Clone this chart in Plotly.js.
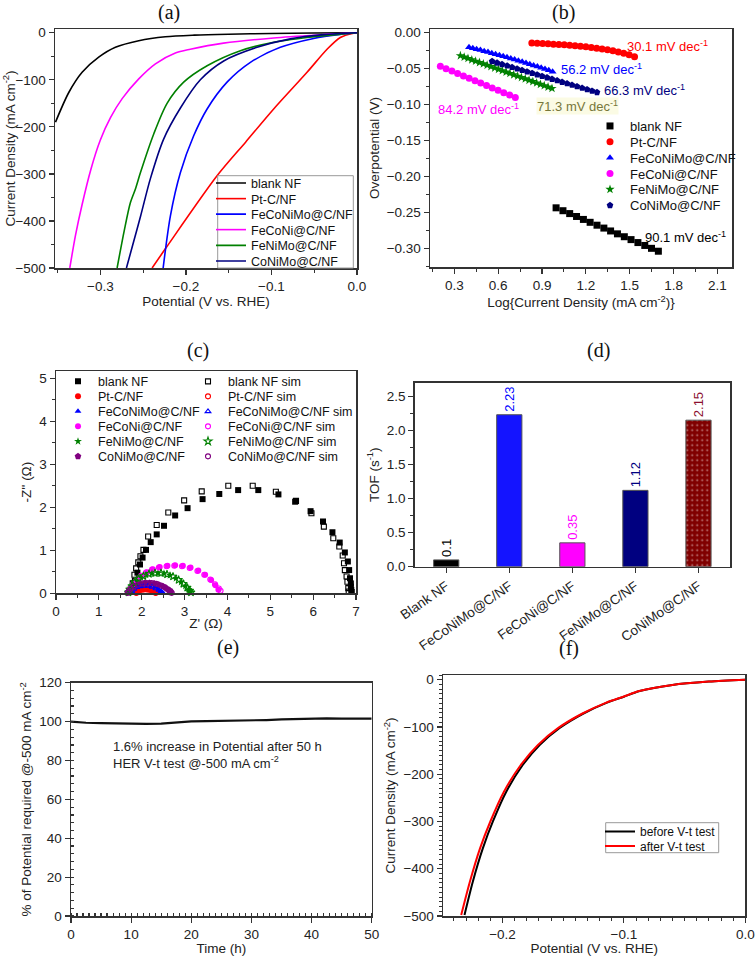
<!DOCTYPE html>
<html><head><meta charset="utf-8">
<script src="https://cdn.plot.ly/plotly-3.0.1.min.js"></script>
<style>html,body{margin:0;padding:0;background:#fff}#c{width:756px;height:956px}</style>
</head><body><div id="c"></div>
<script>
// ---------- (a) LSV ----------
const a_blank_x = [-0.3524,-0.3369,-0.3213,-0.3019,-0.2824,-0.2551,-0.224,-0.19,-0.15,-0.1,-0.05,0];
const a_blank_y = [-190,-127,-84,-52,-31,-17,-8.5,-5,-3,-1.5,-0.6,0];
const a_pt_x = [-0.2395,-0.2228,-0.1636,-0.13,-0.0974,-0.0584,-0.035,-0.0195,-0.004,0];
const a_pt_y = [-500,-456,-304,-232,-162,-84,-35,-10,-1,0];
const a_fcnm_x = [-0.2266,-0.2181,-0.2064,-0.1909,-0.1752,-0.1519,-0.1246,-0.0896,-0.0507,-0.0195,0];
const a_fcnm_y = [-500,-389,-297,-219,-162,-105,-63,-31,-12,-3.4,0];
const a_fcn_x = [-0.3357,-0.329,-0.3213,-0.311,-0.300,-0.288,-0.2745,-0.2551,-0.2356,-0.2123,-0.1948,-0.156,-0.0974,-0.039,0];
const a_fcn_y = [-500,-430,-365,-290,-228,-180,-140,-98,-66,-43,-35,-22,-11,-4,0];
const a_fnm_x = [-0.2804,-0.272,-0.265,-0.259,-0.2531,-0.2376,-0.222,-0.2026,-0.1752,-0.1363,-0.0974,-0.0584,-0.0195,0];
const a_fnm_y = [-500,-420,-362,-332,-297,-215,-150,-105,-70,-38,-20,-10,-3,0];
const a_cnm_x = [-0.2695,-0.262,-0.253,-0.2415,-0.226,-0.2064,-0.1831,-0.1558,-0.1168,-0.0779,-0.039,0];
const a_cnm_y = [-500,-450,-390,-310,-226,-160,-100,-60,-31,-13,-4,0];

// ---------- (b) Tafel ----------
const b_blank_x = [0.996,1.043,1.089,1.136,1.183,1.229,1.276,1.323,1.369,1.416,1.463,1.509,1.556,1.603,1.649,1.696];
const b_blank_y = [-0.2435,-0.2475,-0.2515,-0.2555,-0.2596,-0.2636,-0.2676,-0.2716,-0.2756,-0.2796,-0.2836,-0.2876,-0.2917,-0.2957,-0.2997,-0.3037];
const b_pt_x = [0.83,0.867,0.904,0.941,0.978,1.015,1.052,1.089,1.126,1.163,1.200,1.237,1.274,1.311,1.348,1.385,1.422,1.459,1.496,1.533];
const b_pt_y = [-0.0148,-0.0152,-0.0156,-0.0160,-0.0164,-0.0169,-0.0174,-0.0180,-0.0186,-0.0193,-0.0201,-0.0210,-0.0220,-0.0231,-0.0243,-0.0257,-0.0273,-0.0291,-0.0311,-0.0340];
const b_fcnm_x = [0.400,0.426,0.452,0.478,0.504,0.530,0.556,0.582,0.608,0.634,0.660,0.686,0.712,0.738,0.764,0.790,0.816,0.842,0.868,0.894,0.920,0.946,0.972];
const b_fcnm_y = [-0.0208,-0.0221,-0.0234,-0.0247,-0.0261,-0.0274,-0.0289,-0.0303,-0.0317,-0.0332,-0.0347,-0.0362,-0.0378,-0.0394,-0.0409,-0.0426,-0.0442,-0.0459,-0.0476,-0.0493,-0.0510,-0.0528,-0.0546];
const b_fcn_x = [0.204,0.243,0.283,0.322,0.362,0.401,0.441,0.480,0.520,0.559,0.599,0.638,0.678,0.717];
const b_fcn_y = [-0.0472,-0.0505,-0.0538,-0.0572,-0.0605,-0.0638,-0.0671,-0.0704,-0.0737,-0.0771,-0.0804,-0.0837,-0.0870,-0.0903];
const b_fnm_x = [0.341,0.367,0.393,0.419,0.445,0.472,0.498,0.524,0.550,0.576,0.602,0.628,0.654,0.680,0.706,0.733,0.759,0.785,0.811,0.837,0.863,0.889,0.915,0.941,0.968];
const b_fnm_y = [-0.0324,-0.0343,-0.0362,-0.0381,-0.0400,-0.0419,-0.0437,-0.0456,-0.0475,-0.0494,-0.0513,-0.0532,-0.0551,-0.0570,-0.0589,-0.0608,-0.0626,-0.0645,-0.0664,-0.0683,-0.0702,-0.0721,-0.0740,-0.0759,-0.0778];
const b_cnm_x = [0.558,0.592,0.626,0.661,0.695,0.729,0.763,0.797,0.832,0.866,0.900,0.934,0.968,1.003,1.037,1.071,1.105,1.139,1.174,1.208,1.242,1.276];
const b_cnm_y = [-0.0403,-0.0423,-0.0444,-0.0464,-0.0485,-0.0505,-0.0526,-0.0546,-0.0567,-0.0587,-0.0608,-0.0628,-0.0649,-0.0669,-0.0690,-0.0710,-0.0731,-0.0751,-0.0772,-0.0792,-0.0813,-0.0833];
const b_slopes = ['30.1','56.2','66.3','84.2','71.3','90.1'];
const b_lab_x = [1.76,1.306,1.598,0.464,1.142,1.881];
const b_lab_y = [-0.0185,-0.051,-0.080,-0.1066,-0.102,-0.284];

// ---------- (c) Nyquist ----------
const c_blank_x = [1.79,1.84,1.90,1.96,2.02,2.10,2.21,2.35,2.52,2.78,3.07,3.42,3.81,4.25,4.72,5.19,5.58,5.94,6.23,6.45,6.62,6.74,6.81,6.84,6.86,6.88,6.88,6.89,6.90];
const c_blank_y = [0.12,0.29,0.48,0.67,0.83,1.01,1.19,1.37,1.57,1.81,1.98,2.19,2.31,2.40,2.40,2.30,2.13,1.91,1.67,1.42,1.18,0.95,0.74,0.54,0.35,0.23,0.155,0.08,0.03];
const c_blankS_x = [1.79,1.83,1.87,1.92,1.97,2.04,2.15,2.35,2.62,2.99,3.40,4.02,4.59,5.13,5.60,5.96,6.25,6.47,6.61,6.69,6.72,6.74,6.78,6.80,6.82,6.83];
const c_blankS_y = [0.23,0.43,0.58,0.72,0.86,1.01,1.32,1.59,1.88,2.16,2.37,2.50,2.50,2.36,2.15,1.86,1.55,1.28,1.09,0.88,0.70,0.54,0.39,0.27,0.12,0.04];
const c_pt_x = [1.88,1.92,1.98,2.05,2.12,2.19,2.25,2.29,2.32];
const c_pt_y = [0.01,0.05,0.08,0.09,0.09,0.08,0.06,0.03,0.01];
const c_ptS_x = [1.87,1.90,1.95,2.02,2.09,2.16,2.23,2.28,2.31,2.33];
const c_ptS_y = [0.01,0.04,0.07,0.09,0.10,0.09,0.07,0.05,0.03,0.01];
const c_fcnm_x = [1.75,1.79,1.85,1.93,2.02,2.11,2.20,2.29,2.37,2.43,2.47];
const c_fcnm_y = [0.02,0.07,0.12,0.15,0.17,0.17,0.16,0.13,0.09,0.05,0.01];
const c_fcnmS_x = [1.74,1.77,1.82,1.89,1.97,2.06,2.15,2.24,2.33,2.40,2.45,2.49];
const c_fcnmS_y = [0.01,0.05,0.10,0.14,0.16,0.17,0.17,0.15,0.11,0.08,0.04,0.01];
const c_fcn_x = [1.72,1.76,1.82,1.90,2.00,2.12,2.26,2.42,2.60,2.78,2.96,3.14,3.32,3.48,3.62,3.72,3.79];
const c_fcn_y = [0.03,0.12,0.22,0.32,0.41,0.49,0.56,0.61,0.64,0.65,0.64,0.60,0.53,0.43,0.31,0.19,0.08];
const c_fcnS_x = [1.70,1.74,1.80,1.88,1.98,2.10,2.24,2.40,2.58,2.76,2.94,3.12,3.30,3.46,3.60,3.71,3.80,3.84];
const c_fcnS_y = [0.02,0.11,0.21,0.31,0.40,0.48,0.55,0.60,0.63,0.64,0.63,0.59,0.52,0.43,0.32,0.21,0.11,0.06];
const c_fnm_x = [1.70,1.74,1.80,1.88,1.98,2.10,2.24,2.38,2.52,2.66,2.80,2.92,3.02,3.09,3.13];
const c_fnm_y = [0.03,0.12,0.21,0.30,0.37,0.43,0.46,0.47,0.46,0.42,0.35,0.26,0.17,0.09,0.03];
const c_fnmS_x = [1.69,1.72,1.77,1.84,1.93,2.04,2.17,2.31,2.45,2.59,2.73,2.86,2.97,3.06,3.12,3.15];
const c_fnmS_y = [0.02,0.09,0.17,0.26,0.34,0.40,0.45,0.47,0.47,0.44,0.39,0.31,0.22,0.13,0.06,0.02];
const c_cnm_x = [1.68,1.72,1.78,1.86,1.96,2.07,2.18,2.29,2.40,2.50,2.58,2.64,2.68];
const c_cnm_y = [0.02,0.08,0.14,0.19,0.22,0.24,0.24,0.23,0.20,0.16,0.11,0.06,0.02];
const c_cnmS_x = [1.67,1.70,1.75,1.82,1.91,2.01,2.12,2.23,2.34,2.45,2.54,2.62,2.67,2.70];
const c_cnmS_y = [0.01,0.06,0.11,0.16,0.20,0.23,0.24,0.24,0.22,0.18,0.14,0.09,0.05,0.01];

// ---------- (d) TOF ----------
const d_cats = ['Blank NF','FeCoNiMo@C/NF','FeCoNi@C/NF','FeNiMo@C/NF','CoNiMo@C/NF'];
const d_tof = [0.1, 2.23, 0.35, 1.12, 2.15];
const d_labels = ['0.1','2.23','0.35','1.12','2.15'];

// ---------- (e) stability ----------
const e_t = [0,2.5,5,7.5,10,12.5,15,17.5,20,22.5,25,27.5,30,32.5,35,37.5,40,42.5,45,47.5,50];
const e_v = [100,99.4,99.2,99.0,98.7,98.8,98.9,99.4,100.1,100.2,100.3,100.4,100.6,100.8,101.1,101.3,101.3,101.6,101.5,101.6,101.5];

// ---------- (f) before / after ----------
const f_before_x = [-0.2313,-0.2244,-0.2162,-0.2079,-0.1969,-0.1832,-0.1694,-0.1529,-0.1337,-0.1144,-0.1,-0.087,-0.06,-0.03,0];
const f_before_y = [-498,-427,-357,-300,-237,-180,-138,-102,-72,-49,-36,-24,-11,-4,0];
const f_after_x = [-0.234,-0.2268,-0.2185,-0.210,-0.1988,-0.1848,-0.1708,-0.154,-0.1345,-0.115,-0.1005,-0.0873,-0.06,-0.03,0];
const f_after_y = [-498,-427,-357,-300,-237,-180,-138,-102,-72,-49,-36,-24,-11,-4,0];

// ---------- build ----------
const FONT = 'Liberation Sans, Arial, sans-serif';
const C = {black:'#000000', red:'#ff0000', blue:'#0000ff', mag:'#ff00ff', green:'#008000', navy:'#000080', purple:'#800080', maroon:'#800000', olive:'#77773a'};
const names = ['blank NF','Pt-C/NF','FeCoNiMo@C/NF','FeCoNi@C/NF','FeNiMo@C/NF','CoNiMo@C/NF'];
const W=756, H=956;

// one Plotly legend per entry so rows can sit at the reference spacing
const legends = {};
let legN = 0;
function leg(x0px, rowPy, fsize){
  legN++;
  const id = legN===1 ? 'legend' : 'legend'+legN;
  legends[id] = {x:x0px/W, xanchor:'left', y:1-rowPy/H, yanchor:'middle',
    font:{family:FONT,size:fsize,color:'#111'}, itemwidth:30, bgcolor:'rgba(0,0,0,0)', borderwidth:0};
  return id;
}
const rowsA = [183.3,199,214.5,230,245.7,261.3];
const rowsB = [126,141.8,157.7,173.6,189.4,205.4];
const rowsC = [381.7,396.7,411.7,426.7,441.7,456.7];
const rowsF = [831.5,846];

const traces = [];
function line(x,y,name,color,xa,ya,lg,w){
  traces.push({x:x,y:y,name:name,type:'scatter',mode:'lines',line:{color:color,width:w||1.6,shape:'spline',smoothing:0.8},xaxis:xa,yaxis:ya,legend:lg,showlegend:!!lg});
}
function pts(x,y,name,color,sym,size,xa,ya,lg){
  traces.push({x:x,y:y,name:name,type:'scatter',mode:'markers',marker:{color:color,symbol:sym,size:size,line:{width:sym.indexOf('open')>=0?1.1:0,color:color}},xaxis:xa,yaxis:ya,legend:lg,showlegend:!!lg,cliponaxis:false});
}
// (a)
line(a_blank_x,a_blank_y,names[0],C.black,'x','y',leg(211,rowsA[0],12.5));
line(a_pt_x,a_pt_y,names[1],C.red,'x','y',leg(211,rowsA[1],12.5));
line(a_fcnm_x,a_fcnm_y,names[2],C.blue,'x','y',leg(211,rowsA[2],12.5));
line(a_fcn_x,a_fcn_y,names[3],C.mag,'x','y',leg(211,rowsA[3],12.5));
line(a_fnm_x,a_fnm_y,names[4],C.green,'x','y',leg(211,rowsA[4],12.5));
line(a_cnm_x,a_cnm_y,names[5],C.navy,'x','y',leg(211,rowsA[5],12.5));
// (b)
pts(b_blank_x,b_blank_y,names[0],C.black,'square',7,'x2','y2',leg(590,rowsB[0],13));
pts(b_pt_x,b_pt_y,names[1],C.red,'circle',7,'x2','y2',leg(590,rowsB[1],13));
pts(b_fcnm_x,b_fcnm_y,names[2],C.blue,'triangle-up',7,'x2','y2',leg(590,rowsB[2],13));
pts(b_fcn_x,b_fcn_y,names[3],C.mag,'circle',7,'x2','y2',leg(590,rowsB[3],13));
pts(b_fnm_x,b_fnm_y,names[4],C.green,'star',7,'x2','y2',leg(590,rowsB[4],13));
pts(b_cnm_x,b_cnm_y,names[5],C.navy,'pentagon',7,'x2','y2',leg(590,rowsB[5],13));
// (c)
pts(c_blank_x,c_blank_y,names[0],C.black,'square',6,'x3','y3',leg(58,rowsC[0],12.5));
pts(c_pt_x,c_pt_y,names[1],C.red,'circle',6,'x3','y3',leg(58,rowsC[1],12.5));
pts(c_fcnm_x,c_fcnm_y,names[2],C.blue,'triangle-up',6,'x3','y3',leg(58,rowsC[2],12.5));
pts(c_fcn_x,c_fcn_y,names[3],C.mag,'circle',6,'x3','y3',leg(58,rowsC[3],12.5));
pts(c_fnm_x,c_fnm_y,names[4],C.green,'star',6,'x3','y3',leg(58,rowsC[4],12.5));
pts(c_cnm_x,c_cnm_y,names[5],C.purple,'pentagon',7,'x3','y3',leg(58,rowsC[5],12.5));
pts(c_blankS_x,c_blankS_y,names[0]+' sim',C.black,'square-open',5,'x3','y3',leg(188,rowsC[0],12.5));
pts(c_ptS_x,c_ptS_y,names[1]+' sim',C.red,'circle-open',5,'x3','y3',leg(188,rowsC[1],12.5));
pts(c_fcnmS_x,c_fcnmS_y,names[2]+' sim',C.blue,'triangle-up-open',5,'x3','y3',leg(188,rowsC[2],12.5));
pts(c_fcnS_x,c_fcnS_y,names[3]+' sim',C.mag,'circle-open',5,'x3','y3',leg(188,rowsC[3],12.5));
pts(c_fnmS_x,c_fnmS_y,names[4]+' sim',C.green,'star-open',6,'x3','y3',leg(188,rowsC[4],12.5));
pts(c_cnmS_x,c_cnmS_y,names[5]+' sim',C.purple,'circle-open',5,'x3','y3',leg(188,rowsC[5],12.5));
// (d)
traces.push({type:'bar',x:d_cats,y:d_tof,xaxis:'x4',yaxis:'y4',width:0.4,showlegend:false,
  marker:{color:[C.black,'#1414ff',C.mag,C.navy,C.maroon],line:{color:'#555',width:1},
          pattern:{shape:['','','','','.'],fgcolor:'#c040d0',bgcolor:C.maroon,fillmode:'overlay',size:5,solidity:0.12}},
  text:d_labels,textposition:'outside',textangle:-90,cliponaxis:false,
  textfont:{family:FONT,size:13,color:[C.black,C.blue,C.mag,C.navy,'#8b1030']}});
// (e)
traces.push({type:'scatter',mode:'lines',x:e_t,y:e_v,xaxis:'x5',yaxis:'y5',showlegend:false,line:{color:'#111',width:2.2}});
// (f)
line(f_before_x,f_before_y,'before V-t test',C.black,'x6','y6',leg(600,rowsF[0],12),2);
line(f_after_x,f_after_y,'after V-t test',C.red,'x6','y6',leg(600,rowsF[1],12),2);

function axis(dom, anchor, range, dtick, minor, fmt, title, extra){
  const o = {domain:dom, anchor:anchor, range:range, dtick:dtick, tick0:0, tickformat:fmt,
    showline:true, mirror:true, linecolor:'#333', linewidth:1.5, showgrid:false, zeroline:false,
    ticks:'outside', ticklen:5, tickwidth:1.2, tickcolor:'#333',
    tickfont:{family:FONT,size:13.5,color:'#222'},
    title:{text:title, font:{family:FONT,size:13.5,color:'#222'}, standoff:4}};
  if (minor) o.minor = {dtick:minor, ticks:'outside', ticklen:3, tickwidth:1, tickcolor:'#333', showgrid:false};
  return Object.assign(o, extra||{});
}
const dx = (a,b)=>[a/W,b/W];
const dy = (top,bot)=>[1-bot/H,1-top/H];

const layout = Object.assign({
  width:W, height:H, margin:{l:0,r:0,t:0,b:0}, paper_bgcolor:'#fff', plot_bgcolor:'#fff',
  font:{family:FONT,color:'#222'},
  xaxis: axis(dx(55,357),'y',[-0.353,0],0.1,0.05,'.1f','Potential (V vs. RHE)'),
  yaxis: axis(dy(29,268),'x',[-500,8],100,50,'d','Current Density (mA cm<sup>-2</sup>)'),
  xaxis2: axis(dx(430,732),'y2',[0.133,2.2],0.3,0.15,'.1f','Log{Current Density (mA cm<sup>-2</sup>)}'),
  yaxis2: axis(dy(29,267),'x2',[-0.3256,0.0046],0.05,0.025,'.2f','Overpotential (V)'),
  xaxis3: axis(dx(56,356),'y3',[0,7],1,0.5,'d',"Z' (\u03a9)"),
  yaxis3: axis(dy(371,593.3),'x3',[0,5.17],1,0.5,'d',"-Z'' (\u03a9)"),
  xaxis4: axis(dx(414.7,730),'y4',[-0.5,4.5],null,null,'','',{type:'category',tickangle:-35,dtick:undefined,tick0:undefined}),
  yaxis4: axis(dy(382.7,566.7),'x4',[0,2.7],0.5,0.25,'.1f','TOF (s<sup>-1</sup>)'),
  xaxis5: axis(dx(71,371.7),'y5',[0,50],10,null,'d','Time (h)',{minor:{dtick:1,ticks:'inside',ticklen:3,tickcolor:'#333'}}),
  yaxis5: axis(dy(682.7,916),'x5',[0,120],20,null,'d','% of Potential required @-500 mA cm<sup>-2</sup>',{minor:{dtick:4,ticks:'inside',ticklen:3,tickcolor:'#333'}}),
  xaxis6: axis(dx(443,745.3),'y6',[-0.249,0],0.1,0.01,'.1f','Potential (V vs. RHE)'),
  yaxis6: axis(dy(675,916),'x6',[-500,10],100,10,'d','Current Density (mA cm<sup>-2</sup>)'),
  annotations: [],
  shapes: [
    {type:'rect',xref:'paper',yref:'paper',x0:217.7/W,x1:353.3/W,y0:1-268/H,y1:1-175.7/H,line:{color:'#999',width:1},fillcolor:'#fff',layer:'above'},
    {type:'rect',xref:'paper',yref:'paper',x0:605.7/W,x1:718.7/W,y0:1-852.7/H,y1:1-822.7/H,line:{color:'#999',width:1},fillcolor:'#fff',layer:'above'}
  ],
  showlegend:true, bargap:0.6
}, legends);
layout.xaxis3.title.standoff = 0;

const panelLabels = [['(a)',169,13],['(b)',563,13],['(c)',198,350],['(d)',598,350],['(e)',228,647],['(f)',569,648]];
panelLabels.forEach(p=>layout.annotations.push({text:p[0],xref:'paper',yref:'paper',x:p[1]/W,y:1-p[2]/H,xanchor:'center',yanchor:'middle',showarrow:false,font:{family:'Liberation Serif, Times New Roman, serif',size:20,color:'#111'}}));
const labCols = [C.red,C.blue,C.navy,C.mag,C.olive,C.black];
b_slopes.forEach((s,i)=>layout.annotations.push({text:s+' mV dec<sup>-1</sup>',xref:'x2',yref:'y2',x:b_lab_x[i],y:b_lab_y[i],showarrow:false,
  font:{family:FONT,size:13,color:labCols[i]},bgcolor:i===4?'#fbfbe4':'rgba(0,0,0,0)',borderpad:0}));
layout.annotations.push({text:'1.6% increase in Potential after 50 h<br>HER V-t test @-500 mA cm<sup>-2</sup>',xref:'x5',yref:'y5',x:6.6,y:83,xanchor:'left',yanchor:'middle',align:'left',showarrow:false,font:{family:FONT,size:13,color:'#222'}});

Plotly.newPlot('c', traces, layout, {displayModeBar:false, staticPlot:true});
</script></body></html>
